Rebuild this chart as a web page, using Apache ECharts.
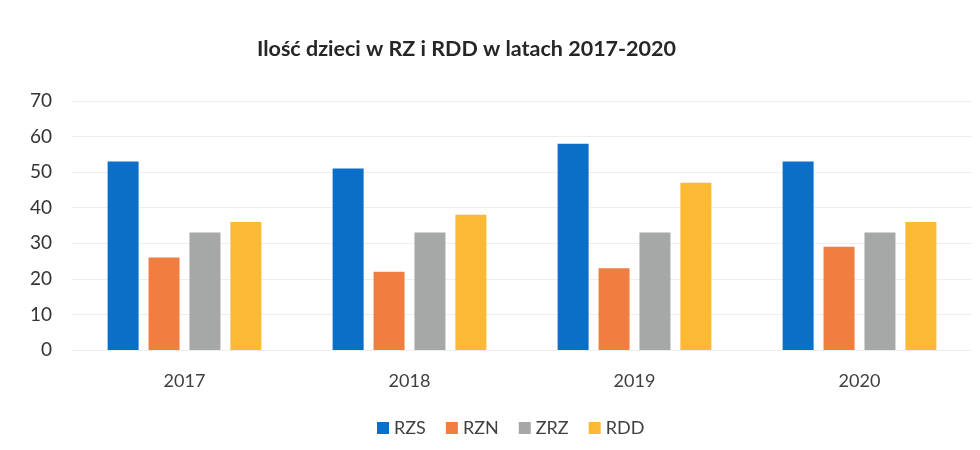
<!DOCTYPE html>
<html>
<head>
<meta charset="utf-8">
<script src="https://cdn.jsdelivr.net/npm/echarts@6/dist/echarts.min.js"></script>
<style>html,body{margin:0;padding:0;background:#fff;}#c{width:980px;height:450px;}</style>
</head>
<body>
<div id="c"></div>
<script>
const categories = ['2017', '2018', '2019', '2020'];
const seriesNames = ['RZS', 'RZN', 'ZRZ', 'RDD'];
const rzs = [53, 51, 58, 53];
const rzn = [26, 22, 23, 29];
const zrz = [33, 33, 33, 33];
const rdd = [36, 38, 47, 36];
const colors = ['#0b6fc8', '#ef7e40', '#a6a8a7', '#fbb934'];
const titleText = 'Ilość dzieci w RZ i RDD w latach 2017-2020';

const chart = echarts.init(document.getElementById('c'));
const values = [rzs, rzn, zrz, rdd];
chart.setOption({
  animation: false,
  backgroundColor: '#fff',
  color: colors,
  textStyle: { fontFamily: 'Lato' },
  title: {
    text: titleText,
    left: 252,
    top: 33,
    textStyle: { fontFamily: 'Lato', fontSize: 21.5, fontWeight: 'bold', color: '#262626' }
  },
  legend: {
    bottom: 8,
    left: 372,
    itemWidth: 12,
    itemHeight: 12,
    itemGap: 20,
    icon: 'rect',
    textStyle: { fontFamily: 'Lato', fontSize: 18, color: '#404040' },
    data: seriesNames
  },
  grid: { left: 72, right: 8, top: 101, bottom: 100 },
  xAxis: {
    type: 'category',
    data: categories,
    axisLine: { show: false },
    axisTick: { show: false },
    axisLabel: { fontFamily: 'Lato', fontSize: 18, color: '#404040', margin: 22 }
  },
  yAxis: {
    type: 'value',
    min: 0,
    max: 70,
    interval: 10,
    axisLine: { show: false },
    axisTick: { show: false },
    axisLabel: { fontFamily: 'Lato', fontSize: 19, color: '#333333', margin: 20 },
    splitLine: { lineStyle: { color: '#eeeeee', width: 1 } }
  },
  series: seriesNames.map((n, i) => ({
    name: n,
    type: 'bar',
    data: values[i],
    barWidth: 31,
    barGap: '32%'
  }))
});
</script>
</body>
</html>
